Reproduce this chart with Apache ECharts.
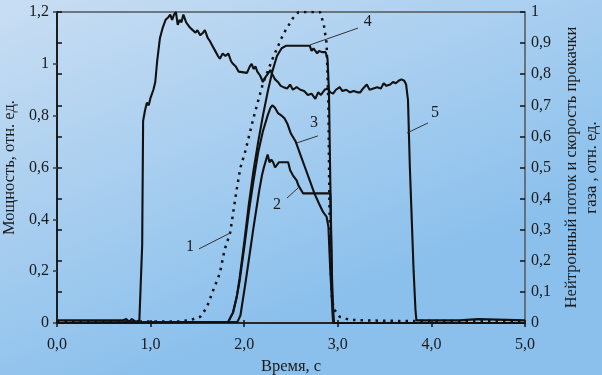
<!DOCTYPE html>
<html>
<head>
<meta charset="utf-8">
<script src="https://cdn.jsdelivr.net/npm/echarts@6/dist/echarts.min.js"></script>
<style>
html,body{margin:0;padding:0;}
#chart{width:602px;height:375px;}
</style>
</head>
<body>
<div id="chart"></div>
<script>
// ---- Data ----
const xTicks = [0, 1, 2, 3, 4, 5];
// Curve 1: neutron flux (right axis, dotted)
const curve1 = [[0,0.005],[1.3,0.005],[1.39,0.008],[1.45,0.012],[1.53,0.02],[1.6,0.05],[1.67,0.106],[1.74,0.16],[1.79,0.235],[1.85,0.29],[1.88,0.35],[1.92,0.43],[1.96,0.5],[2.01,0.55],[2.1,0.66],[2.2,0.77],[2.31,0.855],[2.42,0.93],[2.52,0.98],[2.58,1.0],[2.81,1.0],[2.85,0.96],[2.88,0.9],[2.9,0.7],[2.91,0.4],[2.92,0.2],[2.94,0.07],[2.97,0.04],[3.02,0.02],[3.13,0.01],[3.5,0.007],[5,0.005]];
// Curve 2 (left axis)
const curve2 = [[0,0],[1.93,0.005],[1.96,0.03],[1.99,0.1],[2.02,0.17],[2.06,0.27],[2.1,0.37],[2.13,0.44],[2.16,0.51],[2.19,0.57],[2.21,0.6],[2.23,0.6],[2.25,0.65],[2.27,0.62],[2.29,0.63],[2.31,0.62],[2.33,0.6],[2.35,0.6],[2.37,0.62],[2.47,0.62],[2.49,0.59],[2.52,0.57],[2.54,0.56],[2.56,0.55],[2.58,0.53],[2.6,0.53],[2.63,0.5],[2.92,0.5],[2.93,0.3],[2.95,0],[5,0]];
// Curve 3 (left axis)
const curve3 = [[0,0],[1.83,0.005],[1.88,0.04],[1.92,0.1],[1.95,0.16],[2.0,0.29],[2.05,0.43],[2.1,0.55],[2.15,0.66],[2.2,0.74],[2.25,0.8],[2.28,0.83],[2.3,0.84],[2.33,0.83],[2.36,0.81],[2.4,0.8],[2.43,0.79],[2.46,0.77],[2.5,0.73],[2.55,0.7],[2.6,0.65],[2.65,0.6],[2.7,0.55],[2.75,0.5],[2.8,0.46],[2.84,0.43],[2.88,0.41],[2.9,0.37],[2.92,0.2],[2.95,0],[5,0]];
// Curve 4 (left axis)
const curve4 = [[0,0],[1.83,0.005],[1.88,0.04],[1.92,0.1],[1.95,0.17],[2.0,0.31],[2.05,0.46],[2.1,0.59],[2.15,0.7],[2.2,0.8],[2.25,0.89],[2.3,0.97],[2.35,1.03],[2.4,1.06],[2.45,1.07],[2.7,1.07],[2.72,1.05],[2.74,1.06],[2.76,1.05],[2.78,1.04],[2.8,1.05],[2.83,1.045],[2.87,1.045],[2.89,1.02],[2.905,0.9],[2.92,0.54],[2.94,0.12],[2.96,0],[5,0]];
// Curve 5: power (left axis)
const curve5 = [[0,0.01],[0.7,0.01],[0.71,0.005],[0.74,0.015],[0.77,0.005],[0.8,0.015],[0.84,0.005],[0.88,0.01],[0.9,0.01],[0.91,0.3],[0.92,0.78],[0.94,0.82],[0.96,0.85],[0.98,0.84],[1.0,0.87],[1.03,0.9],[1.05,0.93],[1.07,1.01],[1.1,1.1],[1.13,1.14],[1.16,1.17],[1.19,1.18],[1.21,1.19],[1.23,1.17],[1.25,1.19],[1.27,1.2],[1.29,1.15],[1.31,1.17],[1.33,1.16],[1.35,1.19],[1.38,1.16],[1.42,1.14],[1.45,1.13],[1.48,1.12],[1.5,1.13],[1.53,1.11],[1.56,1.12],[1.58,1.13],[1.61,1.1],[1.63,1.09],[1.66,1.07],[1.69,1.05],[1.72,1.03],[1.74,1.02],[1.77,1.04],[1.8,1.03],[1.83,1.04],[1.86,1.01],[1.88,1.0],[1.91,0.99],[1.94,0.97],[1.96,0.965],[2.03,0.965],[2.06,0.99],[2.08,1.0],[2.1,0.98],[2.12,0.99],[2.14,0.97],[2.17,0.955],[2.2,0.93],[2.22,0.945],[2.25,0.96],[2.28,0.976],[2.3,0.96],[2.33,0.94],[2.36,0.93],[2.39,0.915],[2.42,0.91],[2.46,0.905],[2.49,0.92],[2.52,0.9],[2.56,0.91],[2.6,0.9],[2.64,0.895],[2.68,0.88],[2.72,0.885],[2.76,0.865],[2.79,0.89],[2.82,0.88],[2.86,0.9],[2.89,0.905],[2.92,0.89],[2.95,0.885],[2.98,0.9],[3.02,0.91],[3.05,0.895],[3.09,0.9],[3.13,0.89],[3.17,0.895],[3.21,0.89],[3.24,0.89],[3.27,0.905],[3.31,0.92],[3.34,0.9],[3.38,0.905],[3.42,0.91],[3.46,0.905],[3.49,0.925],[3.52,0.915],[3.56,0.92],[3.59,0.93],[3.62,0.925],[3.65,0.935],[3.68,0.94],[3.71,0.935],[3.73,0.92],[3.75,0.86],[3.77,0.6],[3.79,0.4],[3.81,0.2],[3.83,0.05],[3.84,0.01],[4.3,0.01],[4.5,0.015],[4.52,0.01],[5,0.01]];
// Curve number labels and leader lines (data coordinates on left axis)
const labelText = ['1','2','3','4','5'];
const labelAt = [[1.42,0.293],[2.35,0.455],[2.746,0.772],[3.32,1.161],[4.038,0.81]];
const leaderFrom = [[1.517,0.286],[2.457,0.482],[2.564,0.695],[2.703,1.073],[3.739,0.733]];
const leaderTo = [[1.848,0.347],[2.575,0.521],[2.788,0.722],[3.216,1.138],[3.964,0.772]];

const FONT = 'Liberation Serif';
const TXT = '#1a1a1a';
const AX = '#3c3c3c';

const chart = echarts.init(document.getElementById('chart'));
const comma = v => String(v).replace('.', ',');
const solid = (name, data) => ({
  name, type: 'line', data, yAxisIndex: 0, xAxisIndex: 0, showSymbol: false, symbol: 'none',
  lineStyle: { color: '#111', width: 2.1 }, z: 3, animation: false
});

const s5 = solid('5', curve5);
s5.markLine = {
  silent: true, symbol: ['none','none'], animation: false,
  lineStyle: { color: '#333', width: 1, type: 'solid' },
  label: { show: false },
  data: leaderFrom.map((p, i) => [{ coord: p }, { coord: leaderTo[i] }])
};
s5.markPoint = {
  silent: true, animation: false, symbol: 'circle', symbolSize: 1,
  itemStyle: { color: 'rgba(0,0,0,0)' },
  label: { show: true, position: 'inside', formatter: p => p.name, fontFamily: FONT, fontSize: 16, color: TXT },
  data: labelAt.map((p, i) => ({ coord: p, name: labelText[i] }))
};

chart.setOption({
  animation: false,
  backgroundColor: {
    type: 'linear', x: 0, y: 0, x2: 0.25, y2: 1,
    colorStops: [{ offset: 0, color: '#c9def3' }, { offset: 1, color: '#8bc0ec' }]
  },
  grid: { left: 57, right: 77, top: 12, bottom: 52, outerBoundsMode: 'none', containLabel: false,
    show: true, borderColor: '#555', borderWidth: 1.5, backgroundColor: 'transparent' },
  xAxis: [{
    type: 'value', min: 0, max: 5, interval: 1, position: 'bottom',
    name: 'Время, с', nameLocation: 'middle', nameGap: 29,
    nameTextStyle: { fontFamily: FONT, fontSize: 16.5, color: TXT },
    axisLine: { show: true, lineStyle: { color: '#111', width: 1.5 } },
    axisTick: { show: true, inside: false, length: 4, lineStyle: { color: '#111', width: 1.5 } },
    axisLabel: { fontFamily: FONT, fontSize: 16, color: TXT, margin: 14, formatter: v => v.toFixed(1).replace('.', ',') },
    splitLine: { show: false }
  }, {
    type: 'value', min: 0, max: 5, interval: 1, position: 'bottom', offset: 0,
    axisLine: { show: false },
    axisTick: { show: true, inside: true, length: 3, lineStyle: { color: '#111', width: 1.5 } },
    axisLabel: { show: false }, splitLine: { show: false }
  }],
  yAxis: [{
    type: 'value', min: 0, max: 1.2, interval: 0.2, position: 'left',
    name: 'Мощность, отн. ед.', nameLocation: 'middle', nameGap: 37, nameRotate: 90,
    nameTextStyle: { fontFamily: FONT, fontSize: 16.5, color: TXT },
    axisLine: { show: true, lineStyle: { color: AX, width: 1.5 } },
    axisTick: { show: true, inside: false, length: 4, lineStyle: { color: AX, width: 1.5 } },
    axisLabel: { fontFamily: FONT, fontSize: 16, color: TXT, margin: 8, formatter: v => comma(+v.toFixed(1)) },
    splitLine: { show: false }
  }, {
    type: 'value', min: 0, max: 1, interval: 0.1, position: 'right', offset: 0,
    name: 'Нейтронный поток и скорость прокачки\nгаза , отн. ед.', nameLocation: 'middle', nameGap: 36, nameRotate: 90,
    nameTextStyle: { fontFamily: FONT, fontSize: 16.5, color: TXT, lineHeight: 20 },
    axisLine: { show: true, lineStyle: { color: '#111', width: 1.5 } },
    axisTick: { show: true, inside: false, length: 5, lineStyle: { color: '#111', width: 1.5 } },
    axisLabel: { fontFamily: FONT, fontSize: 16, color: TXT, margin: 6, formatter: v => comma(+v.toFixed(1)) },
    splitLine: { show: false }
  }, {
    type: 'value', min: 0, max: 1, interval: 0.1, position: 'right', offset: 0,
    axisLine: { show: false },
    axisTick: { show: true, inside: true, length: 5, lineStyle: { color: '#111', width: 1.5 } },
    axisLabel: { show: false }, splitLine: { show: false }
  }],
  series: [
    {
      name: '1', type: 'line', data: curve1, yAxisIndex: 1, showSymbol: false, symbol: 'none',
      lineStyle: { color: '#111', width: 2.5, type: [2.5, 5] }, z: 4
    },
    solid('2', curve2),
    solid('3', curve3),
    solid('4', curve4),
    s5
  ]
});
</script>
</body>
</html>
